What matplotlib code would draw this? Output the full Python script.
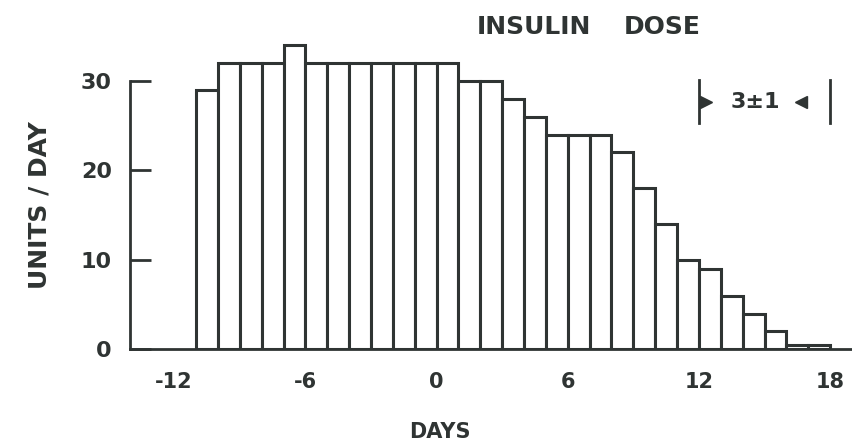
import matplotlib
matplotlib.use("Agg")
import matplotlib.pyplot as plt

# daily insulin dose, one bar per day
day_start = list(range(-11, 18))
units = [29, 32, 32, 32, 34, 32, 32, 32, 32, 32, 32, 32, 30, 30,
         28, 26, 24, 24, 24, 22, 18, 14, 10, 9, 6, 4, 2, 0.5, 0.5]
xticks = [-12, -6, 0, 6, 12, 18]
xtick_labels = ['-12', '-6', '0', '6', '12', '18']
yticks = [0, 10, 20, 30]

ink = '#2f3433'

fig = plt.figure(figsize=(8.52, 4.46), dpi=100)
ax = fig.add_axes([0.1526, 0.2168, 0.8474, 0.7224])

ax.bar(day_start, units, width=1.0, align='edge', facecolor='white',
       edgecolor=ink, linewidth=2.2)

ax.set_xlim(-14.02, 19.0)
ax.set_ylim(0, 36)

ax.spines['top'].set_visible(False)
ax.spines['right'].set_visible(False)
ax.spines['left'].set_bounds(0, 30)
for s in ('left', 'bottom'):
    ax.spines[s].set_color(ink)
    ax.spines[s].set_linewidth(2.0)

ax.set_yticks(yticks)
ax.set_yticklabels([str(v) for v in yticks], fontweight='bold')
ax.tick_params(axis='y', direction='in', length=15, width=2.0, color=ink,
               pad=13, labelsize=16, labelcolor=ink)
ax.set_xticks(xticks)
ax.set_xticklabels(xtick_labels, fontweight='bold')
ax.tick_params(axis='x', length=0, pad=16, labelsize=15, labelcolor=ink)

# bracket "3±1"
ax.plot([12, 12], [25.3, 30.1], color=ink, lw=2.0, clip_on=False)
ax.plot([18, 18], [25.3, 30.1], color=ink, lw=2.0, clip_on=False)
ax.plot([12.3], [27.6], marker='>', color=ink, markersize=8, clip_on=False)
ax.plot([16.65], [27.6], marker='<', color=ink, markersize=8, clip_on=False)
ax.text(14.6, 27.6, '3±1', ha='center', va='center', fontsize=16,
        fontweight='bold', color=ink)

fig.text(534/852, 1-27/446, 'INSULIN', ha='center', va='center',
         fontsize=18, fontweight='bold', color=ink)
fig.text(662/852, 1-27/446, 'DOSE', ha='center', va='center',
         fontsize=18, fontweight='bold', color=ink)
fig.text(440/852, 1-432/446, 'DAYS', ha='center', va='center',
         fontsize=15, fontweight='bold', color=ink)
fig.text(40/852, 1-205/446, 'UNITS / DAY', ha='center', va='center',
         rotation=90, fontsize=18, fontweight='bold', color=ink)

fig.savefig('out.png', dpi=100, facecolor='white')
